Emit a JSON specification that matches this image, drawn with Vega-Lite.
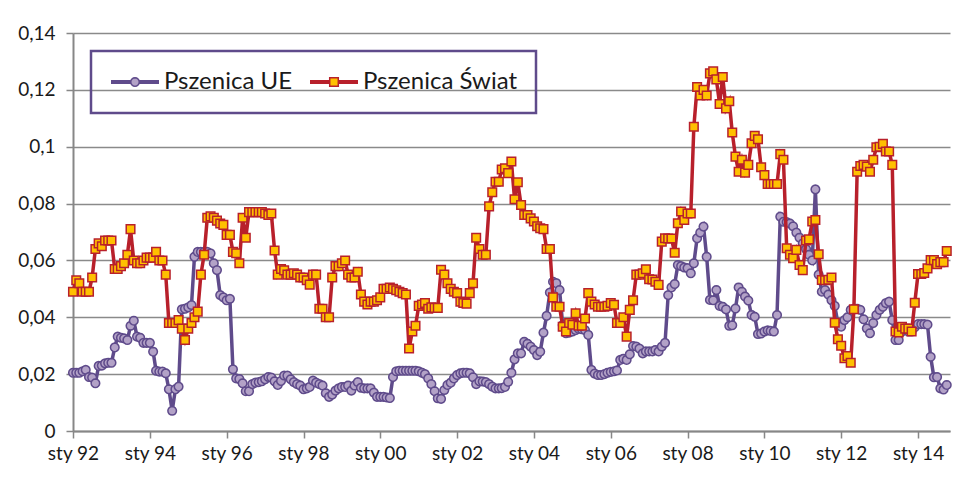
{
  "$schema": "https://vega.github.io/schema/vega-lite/v6.json",
  "width": 877,
  "height": 398,
  "autosize": {"type": "none"},
  "padding": {"left": 73, "top": 33, "right": 17, "bottom": 58},
  "background": "white",
  "config": {
    "view": {"stroke": null},
    "font": "Lato",
    "axis": {"labelFont": "Lato", "labelColor": "#1a1a1a", "labelFontSize": 19}
  },
  "data": {"values": [
{"d":"1992-01","ue":0.0205,"sw":0.049},{"d":"1992-02","ue":0.0205,"sw":0.053},{"d":"1992-03","ue":0.0205,"sw":0.052},{"d":"1992-04","ue":0.021,"sw":0.049},{"d":"1992-05","ue":0.0215,"sw":0.049},{"d":"1992-06","ue":0.019,"sw":0.049},{"d":"1992-07","ue":0.0188,"sw":0.054},{"d":"1992-08","ue":0.0168,"sw":0.064},{"d":"1992-09","ue":0.0229,"sw":0.066},{"d":"1992-10","ue":0.023,"sw":0.065},{"d":"1992-11","ue":0.0238,"sw":0.067},{"d":"1992-12","ue":0.024,"sw":0.067},
{"d":"1993-01","ue":0.024,"sw":0.067},{"d":"1993-02","ue":0.0294,"sw":0.057},{"d":"1993-03","ue":0.0332,"sw":0.057},{"d":"1993-04","ue":0.0328,"sw":0.058},{"d":"1993-05","ue":0.0326,"sw":0.059},{"d":"1993-06","ue":0.032,"sw":0.062},{"d":"1993-07","ue":0.037,"sw":0.071},{"d":"1993-08","ue":0.0388,"sw":0.060},{"d":"1993-09","ue":0.0332,"sw":0.059},{"d":"1993-10","ue":0.0328,"sw":0.059},{"d":"1993-11","ue":0.031,"sw":0.060},{"d":"1993-12","ue":0.031,"sw":0.061},
{"d":"1994-01","ue":0.031,"sw":0.061},{"d":"1994-02","ue":0.0279,"sw":0.061},{"d":"1994-03","ue":0.0212,"sw":0.063},{"d":"1994-04","ue":0.0209,"sw":0.060},{"d":"1994-05","ue":0.0209,"sw":0.060},{"d":"1994-06","ue":0.0203,"sw":0.055},{"d":"1994-07","ue":0.0147,"sw":0.038},{"d":"1994-08","ue":0.0071,"sw":0.038},{"d":"1994-09","ue":0.0147,"sw":0.038},{"d":"1994-10","ue":0.0156,"sw":0.039},{"d":"1994-11","ue":0.0428,"sw":0.036},{"d":"1994-12","ue":0.043,"sw":0.032},
{"d":"1995-01","ue":0.0435,"sw":0.036},{"d":"1995-02","ue":0.0443,"sw":0.038},{"d":"1995-03","ue":0.0613,"sw":0.040},{"d":"1995-04","ue":0.063,"sw":0.042},{"d":"1995-05","ue":0.063,"sw":0.055},{"d":"1995-06","ue":0.063,"sw":0.062},{"d":"1995-07","ue":0.063,"sw":0.075},{"d":"1995-08","ue":0.0625,"sw":0.0755},{"d":"1995-09","ue":0.059,"sw":0.075},{"d":"1995-10","ue":0.0566,"sw":0.074},{"d":"1995-11","ue":0.0478,"sw":0.073},{"d":"1995-12","ue":0.047,"sw":0.0725},
{"d":"1996-01","ue":0.046,"sw":0.069},{"d":"1996-02","ue":0.0465,"sw":0.069},{"d":"1996-03","ue":0.0217,"sw":0.063},{"d":"1996-04","ue":0.0185,"sw":0.0625},{"d":"1996-05","ue":0.0183,"sw":0.059},{"d":"1996-06","ue":0.0168,"sw":0.075},{"d":"1996-07","ue":0.014,"sw":0.068},{"d":"1996-08","ue":0.014,"sw":0.077},{"d":"1996-09","ue":0.0165,"sw":0.077},{"d":"1996-10","ue":0.017,"sw":0.077},{"d":"1996-11","ue":0.0172,"sw":0.077},{"d":"1996-12","ue":0.0175,"sw":0.077},
{"d":"1997-01","ue":0.0182,"sw":0.0765},{"d":"1997-02","ue":0.019,"sw":0.076},{"d":"1997-03","ue":0.0188,"sw":0.0765},{"d":"1997-04","ue":0.0175,"sw":0.0635},{"d":"1997-05","ue":0.0162,"sw":0.055},{"d":"1997-06","ue":0.0176,"sw":0.057},{"d":"1997-07","ue":0.0195,"sw":0.0565},{"d":"1997-08","ue":0.0195,"sw":0.055},{"d":"1997-09","ue":0.0182,"sw":0.055},{"d":"1997-10","ue":0.0172,"sw":0.0555},{"d":"1997-11","ue":0.0165,"sw":0.055},{"d":"1997-12","ue":0.016,"sw":0.054},
{"d":"1998-01","ue":0.0147,"sw":0.054},{"d":"1998-02","ue":0.015,"sw":0.053},{"d":"1998-03","ue":0.0155,"sw":0.0515},{"d":"1998-04","ue":0.0177,"sw":0.055},{"d":"1998-05","ue":0.017,"sw":0.055},{"d":"1998-06","ue":0.0165,"sw":0.043},{"d":"1998-07","ue":0.016,"sw":0.043},{"d":"1998-08","ue":0.0133,"sw":0.040},{"d":"1998-09","ue":0.012,"sw":0.040},{"d":"1998-10","ue":0.0128,"sw":0.054},{"d":"1998-11","ue":0.0142,"sw":0.058},{"d":"1998-12","ue":0.015,"sw":0.058},
{"d":"1999-01","ue":0.0155,"sw":0.059},{"d":"1999-02","ue":0.0155,"sw":0.060},{"d":"1999-03","ue":0.016,"sw":0.055},{"d":"1999-04","ue":0.0142,"sw":0.054},{"d":"1999-05","ue":0.016,"sw":0.054},{"d":"1999-06","ue":0.0172,"sw":0.056},{"d":"1999-07","ue":0.0152,"sw":0.048},{"d":"1999-08","ue":0.015,"sw":0.0455},{"d":"1999-09","ue":0.015,"sw":0.0445},{"d":"1999-10","ue":0.015,"sw":0.0455},{"d":"1999-11","ue":0.0135,"sw":0.0455},{"d":"1999-12","ue":0.012,"sw":0.046},
{"d":"2000-01","ue":0.012,"sw":0.047},{"d":"2000-02","ue":0.012,"sw":0.050},{"d":"2000-03","ue":0.0118,"sw":0.050},{"d":"2000-04","ue":0.0116,"sw":0.0505},{"d":"2000-05","ue":0.019,"sw":0.050},{"d":"2000-06","ue":0.021,"sw":0.0495},{"d":"2000-07","ue":0.0212,"sw":0.049},{"d":"2000-08","ue":0.0212,"sw":0.0485},{"d":"2000-09","ue":0.0212,"sw":0.048},{"d":"2000-10","ue":0.0212,"sw":0.029},{"d":"2000-11","ue":0.0212,"sw":0.035},{"d":"2000-12","ue":0.0212,"sw":0.037},
{"d":"2001-01","ue":0.021,"sw":0.044},{"d":"2001-02","ue":0.0205,"sw":0.0445},{"d":"2001-03","ue":0.02,"sw":0.045},{"d":"2001-04","ue":0.0185,"sw":0.043},{"d":"2001-05","ue":0.0165,"sw":0.0435},{"d":"2001-06","ue":0.014,"sw":0.0433},{"d":"2001-07","ue":0.0115,"sw":0.0433},{"d":"2001-08","ue":0.0113,"sw":0.0567},{"d":"2001-09","ue":0.0144,"sw":0.055},{"d":"2001-10","ue":0.0162,"sw":0.052},{"d":"2001-11","ue":0.017,"sw":0.050},{"d":"2001-12","ue":0.0185,"sw":0.049},
{"d":"2002-01","ue":0.0197,"sw":0.0485},{"d":"2002-02","ue":0.0203,"sw":0.0455},{"d":"2002-03","ue":0.0205,"sw":0.045},{"d":"2002-04","ue":0.0205,"sw":0.0448},{"d":"2002-05","ue":0.0203,"sw":0.0485},{"d":"2002-06","ue":0.0189,"sw":0.052},{"d":"2002-07","ue":0.0165,"sw":0.068},{"d":"2002-08","ue":0.0175,"sw":0.064},{"d":"2002-09","ue":0.0174,"sw":0.062},{"d":"2002-10","ue":0.0172,"sw":0.062},{"d":"2002-11","ue":0.0165,"sw":0.079},{"d":"2002-12","ue":0.0156,"sw":0.084},
{"d":"2003-01","ue":0.015,"sw":0.0877},{"d":"2003-02","ue":0.015,"sw":0.0877},{"d":"2003-03","ue":0.0151,"sw":0.092},{"d":"2003-04","ue":0.0155,"sw":0.0924},{"d":"2003-05","ue":0.0173,"sw":0.0907},{"d":"2003-06","ue":0.0205,"sw":0.0948},{"d":"2003-07","ue":0.0252,"sw":0.0815},{"d":"2003-08","ue":0.0273,"sw":0.0875},{"d":"2003-09","ue":0.0273,"sw":0.0795},{"d":"2003-10","ue":0.0314,"sw":0.076},{"d":"2003-11","ue":0.0307,"sw":0.076},{"d":"2003-12","ue":0.0297,"sw":0.0748},
{"d":"2004-01","ue":0.0285,"sw":0.0737},{"d":"2004-02","ue":0.0267,"sw":0.072},{"d":"2004-03","ue":0.0279,"sw":0.0713},{"d":"2004-04","ue":0.0346,"sw":0.071},{"d":"2004-05","ue":0.0405,"sw":0.064},{"d":"2004-06","ue":0.0487,"sw":0.064},{"d":"2004-07","ue":0.0525,"sw":0.047},{"d":"2004-08","ue":0.052,"sw":0.0437},{"d":"2004-09","ue":0.0496,"sw":0.0437},{"d":"2004-10","ue":0.0373,"sw":0.0367},{"d":"2004-11","ue":0.0344,"sw":0.035},{"d":"2004-12","ue":0.0346,"sw":0.038},
{"d":"2005-01","ue":0.035,"sw":0.0374},{"d":"2005-02","ue":0.0355,"sw":0.0414},{"d":"2005-03","ue":0.036,"sw":0.037},{"d":"2005-04","ue":0.0358,"sw":0.037},{"d":"2005-05","ue":0.0355,"sw":0.0396},{"d":"2005-06","ue":0.0338,"sw":0.0485},{"d":"2005-07","ue":0.0215,"sw":0.0455},{"d":"2005-08","ue":0.0202,"sw":0.0445},{"d":"2005-09","ue":0.0197,"sw":0.0437},{"d":"2005-10","ue":0.0197,"sw":0.0437},{"d":"2005-11","ue":0.02,"sw":0.0437},{"d":"2005-12","ue":0.0205,"sw":0.044},
{"d":"2006-01","ue":0.0208,"sw":0.045},{"d":"2006-02","ue":0.021,"sw":0.0444},{"d":"2006-03","ue":0.0213,"sw":0.038},{"d":"2006-04","ue":0.025,"sw":0.038},{"d":"2006-05","ue":0.0254,"sw":0.040},{"d":"2006-06","ue":0.025,"sw":0.0332},{"d":"2006-07","ue":0.027,"sw":0.0426},{"d":"2006-08","ue":0.0299,"sw":0.046},{"d":"2006-09","ue":0.0297,"sw":0.055},{"d":"2006-10","ue":0.029,"sw":0.055},{"d":"2006-11","ue":0.0273,"sw":0.0555},{"d":"2006-12","ue":0.028,"sw":0.0569},
{"d":"2007-01","ue":0.028,"sw":0.0534},{"d":"2007-02","ue":0.028,"sw":0.0533},{"d":"2007-03","ue":0.0285,"sw":0.0525},{"d":"2007-04","ue":0.028,"sw":0.0514},{"d":"2007-05","ue":0.0297,"sw":0.0666},{"d":"2007-06","ue":0.031,"sw":0.0678},{"d":"2007-07","ue":0.0478,"sw":0.0677},{"d":"2007-08","ue":0.0505,"sw":0.0677},{"d":"2007-09","ue":0.0517,"sw":0.0627},{"d":"2007-10","ue":0.0584,"sw":0.0731},{"d":"2007-11","ue":0.058,"sw":0.0772},{"d":"2007-12","ue":0.0575,"sw":0.0742},
{"d":"2008-01","ue":0.0573,"sw":0.0765},{"d":"2008-02","ue":0.0555,"sw":0.0765},{"d":"2008-03","ue":0.059,"sw":0.107},{"d":"2008-04","ue":0.0678,"sw":0.121},{"d":"2008-05","ue":0.0698,"sw":0.118},{"d":"2008-06","ue":0.0719,"sw":0.120},{"d":"2008-07","ue":0.0613,"sw":0.118},{"d":"2008-08","ue":0.0461,"sw":0.1258},{"d":"2008-09","ue":0.046,"sw":0.1265},{"d":"2008-10","ue":0.0496,"sw":0.1237},{"d":"2008-11","ue":0.044,"sw":0.115},{"d":"2008-12","ue":0.0437,"sw":0.1245},
{"d":"2009-01","ue":0.0428,"sw":0.1135},{"d":"2009-02","ue":0.037,"sw":0.116},{"d":"2009-03","ue":0.0372,"sw":0.105},{"d":"2009-04","ue":0.0431,"sw":0.0965},{"d":"2009-05","ue":0.0505,"sw":0.0912},{"d":"2009-06","ue":0.049,"sw":0.0954},{"d":"2009-07","ue":0.0473,"sw":0.0909},{"d":"2009-08","ue":0.0459,"sw":0.0936},{"d":"2009-09","ue":0.0408,"sw":0.1012},{"d":"2009-10","ue":0.0402,"sw":0.1038},{"d":"2009-11","ue":0.0341,"sw":0.1026},{"d":"2009-12","ue":0.0343,"sw":0.0928},
{"d":"2010-01","ue":0.035,"sw":0.090},{"d":"2010-02","ue":0.0354,"sw":0.0869},{"d":"2010-03","ue":0.0352,"sw":0.0869},{"d":"2010-04","ue":0.035,"sw":0.0869},{"d":"2010-05","ue":0.0408,"sw":0.0869},{"d":"2010-06","ue":0.0754,"sw":0.0974},{"d":"2010-07","ue":0.0736,"sw":0.0954},{"d":"2010-08","ue":0.0735,"sw":0.0643},{"d":"2010-09","ue":0.073,"sw":0.062},{"d":"2010-10","ue":0.072,"sw":0.0608},{"d":"2010-11","ue":0.0698,"sw":0.0637},{"d":"2010-12","ue":0.068,"sw":0.0584},
{"d":"2011-01","ue":0.066,"sw":0.0566},{"d":"2011-02","ue":0.064,"sw":0.067},{"d":"2011-03","ue":0.062,"sw":0.0674},{"d":"2011-04","ue":0.060,"sw":0.0737},{"d":"2011-05","ue":0.085,"sw":0.0742},{"d":"2011-06","ue":0.055,"sw":0.0622},{"d":"2011-07","ue":0.049,"sw":0.0531},{"d":"2011-08","ue":0.0496,"sw":0.053},{"d":"2011-09","ue":0.048,"sw":0.0532},{"d":"2011-10","ue":0.046,"sw":0.054},{"d":"2011-11","ue":0.044,"sw":0.0381},{"d":"2011-12","ue":0.038,"sw":0.0323},
{"d":"2012-01","ue":0.0367,"sw":0.030},{"d":"2012-02","ue":0.039,"sw":0.0256},{"d":"2012-03","ue":0.040,"sw":0.0264},{"d":"2012-04","ue":0.0426,"sw":0.024},{"d":"2012-05","ue":0.043,"sw":0.0428},{"d":"2012-06","ue":0.043,"sw":0.0912},{"d":"2012-07","ue":0.0426,"sw":0.0932},{"d":"2012-08","ue":0.0393,"sw":0.0936},{"d":"2012-09","ue":0.0361,"sw":0.093},{"d":"2012-10","ue":0.0344,"sw":0.0912},{"d":"2012-11","ue":0.038,"sw":0.0954},{"d":"2012-12","ue":0.0408,"sw":0.0998},
{"d":"2013-01","ue":0.0426,"sw":0.100},{"d":"2013-02","ue":0.0437,"sw":0.101},{"d":"2013-03","ue":0.045,"sw":0.0983},{"d":"2013-04","ue":0.0455,"sw":0.0983},{"d":"2013-05","ue":0.039,"sw":0.0936},{"d":"2013-06","ue":0.032,"sw":0.035},{"d":"2013-07","ue":0.032,"sw":0.0347},{"d":"2013-08","ue":0.035,"sw":0.0367},{"d":"2013-09","ue":0.036,"sw":0.036},{"d":"2013-10","ue":0.035,"sw":0.036},{"d":"2013-11","ue":0.035,"sw":0.035},{"d":"2013-12","ue":0.0365,"sw":0.0451},
{"d":"2014-01","ue":0.0376,"sw":0.0552},{"d":"2014-02","ue":0.0376,"sw":0.0552},{"d":"2014-03","ue":0.0376,"sw":0.0556},{"d":"2014-04","ue":0.0374,"sw":0.0572},{"d":"2014-05","ue":0.0261,"sw":0.0601},{"d":"2014-06","ue":0.0189,"sw":0.0601},{"d":"2014-07","ue":0.019,"sw":0.0587},{"d":"2014-08","ue":0.015,"sw":0.0594},{"d":"2014-09","ue":0.0146,"sw":0.0594},{"d":"2014-10","ue":0.0162,"sw":0.0633}
  ]},
  "transform": [{"fold": ["ue", "sw"], "as": ["series", "value"]}],
  "encoding": {
    "x": {
      "field": "d", "type": "temporal",
      "scale": {"type": "utc", "domain": [{"year": 1992, "month": 1, "date": 1, "utc": true}, {"year": 2014, "month": 11, "date": 1, "utc": true}]},
      "axis": {
        "title": null, "grid": false,
        "values": [
          {"year": 1992, "month": 1, "date": 1, "utc": true}, {"year": 1994, "month": 1, "date": 1, "utc": true},
          {"year": 1996, "month": 1, "date": 1, "utc": true}, {"year": 1998, "month": 1, "date": 1, "utc": true},
          {"year": 2000, "month": 1, "date": 1, "utc": true}, {"year": 2002, "month": 1, "date": 1, "utc": true},
          {"year": 2004, "month": 1, "date": 1, "utc": true}, {"year": 2006, "month": 1, "date": 1, "utc": true},
          {"year": 2008, "month": 1, "date": 1, "utc": true}, {"year": 2010, "month": 1, "date": 1, "utc": true},
          {"year": 2012, "month": 1, "date": 1, "utc": true}, {"year": 2014, "month": 1, "date": 1, "utc": true}
        ],
        "labelExpr": "'sty ' + utcFormat(datum.value, '%y')",
        "labelFlush": false, "labelOverlap": false,
        "tickSize": 7, "tickColor": "#878787", "tickWidth": 1.5,
        "domainColor": "#878787", "domainWidth": 2,
        "labelPadding": 6
      }
    },
    "y": {
      "field": "value", "type": "quantitative",
      "scale": {"domain": [0, 0.14], "nice": false},
      "axis": {
        "title": null,
        "values": [0, 0.02, 0.04, 0.06, 0.08, 0.1, 0.12, 0.14],
        "labelExpr": "replace(toString(round(datum.value*100)/100), '.', ',')",
        "grid": true, "gridColor": "#8a8a8a", "gridWidth": 1.5,
        "tickSize": 7, "tickColor": "#878787", "tickWidth": 1.5,
        "domainColor": "#878787", "domainWidth": 2,
        "labelPadding": 11
      }
    }
  },
  "layer": [
    {
      "transform": [{"filter": "datum.series == 'ue'"}],
      "mark": {"type": "line", "strokeWidth": 3.5},
      "encoding": {
        "stroke": {
          "field": "series", "type": "nominal",
          "scale": {"domain": ["ue", "sw"], "range": ["#5F4B8B", "#B8202B"]},
          "legend": {
            "orient": "none", "legendX": 18, "legendY": 18, "direction": "horizontal",
            "title": null, "symbolType": "M-1,0H1", "symbolSize": 2304, "symbolStrokeWidth": 4,
            "symbolFillColor": "transparent",
            "labelFont": "Lato", "labelFontSize": 24, "labelColor": "#1a1a1a", "labelOffset": 3, "labelLimit": 300,
            "labelExpr": "datum.label == 'ue' ? 'Pszenica UE' : 'Pszenica Świat'",
            "columnPadding": 16, "padding": 18, "clipHeight": 26,
            "encode": {
              "legend": {"update": {"stroke": {"value": "#5F4B8B"}, "strokeWidth": {"value": 2.5}}},
              "symbols": {"update": {"strokeWidth": {"value": 4}, "opacity": {"value": 1}}}
            }
          }
        }
      }
    },
    {
      "transform": [{"filter": "datum.series == 'ue'"}],
      "mark": {"type": "point", "filled": true, "size": 2550, "strokeWidth": 1.5, "opacity": 1},
      "encoding": {
        "stroke": {"field": "series", "type": "nominal"},
        "fill": {"field": "series", "type": "nominal", "scale": {"domain": ["ue", "sw"], "range": ["#B3A2C7", "#FFC000"]}, "legend": null},
        "shape": {
          "field": "series", "type": "nominal", "sort": "descending",
          "scale": {"range": [
            "M0.17,0L0.157,0.065L0.12,0.12L0.065,0.157L0,0.17L-0.065,0.157L-0.12,0.12L-0.157,0.065L-0.17,0L-0.157,-0.065L-0.12,-0.12L-0.065,-0.157L0,-0.17L0.065,-0.157L0.12,-0.12L0.157,-0.065Z",
            "M-0.17,-0.17H0.17V0.17H-0.17Z"
          ]},
          "legend": {
            "orient": "none", "legendX": 18, "legendY": 18, "direction": "horizontal",
            "title": null, "symbolSize": 2550, "symbolStrokeWidth": 1.5,
            "symbolFillColor": {"expr": "datum.value == 'ue' ? '#B3A2C7' : '#FFC000'"},
            "symbolStrokeColor": {"expr": "datum.value == 'ue' ? '#5F4B8B' : '#B8202B'"},
            "labelFont": "Lato", "labelFontSize": 24, "labelOpacity": 0, "labelOffset": 3, "labelLimit": 300,
            "labelExpr": "datum.label == 'ue' ? 'Pszenica UE' : 'Pszenica Świat'",
            "columnPadding": 16, "padding": 18, "clipHeight": 26
          }
        }
      }
    },
    {
      "transform": [{"filter": "datum.series == 'sw'"}],
      "mark": {"type": "line", "strokeWidth": 3.5},
      "encoding": {"stroke": {"field": "series", "type": "nominal"}}
    },
    {
      "transform": [{"filter": "datum.series == 'sw'"}],
      "mark": {"type": "point", "filled": true, "size": 2550, "strokeWidth": 1.5, "opacity": 1},
      "encoding": {
        "stroke": {"field": "series", "type": "nominal"},
        "fill": {"field": "series", "type": "nominal", "legend": null},
        "shape": {"field": "series", "type": "nominal", "sort": "descending"}
      }
    }
  ]
}
